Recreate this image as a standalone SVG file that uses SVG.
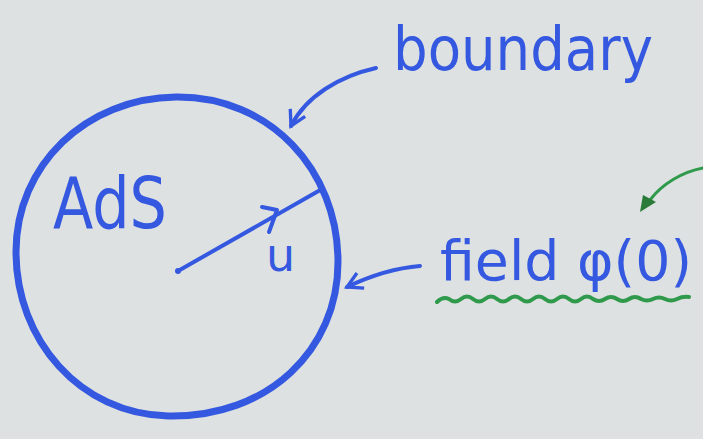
<svg xmlns="http://www.w3.org/2000/svg" width="703" height="439" viewBox="0 0 703 439">
<defs>
<style>
.ink{fill:none;stroke:#3558e0;stroke-linecap:round;stroke-linejoin:round}
.gink{fill:none;stroke:#2f9a4c;stroke-linecap:round;stroke-linejoin:round}
.lbl{fill:#3558e0;font-family:"DejaVu Sans","Liberation Sans",sans-serif}
</style>
<marker id="openBlue" viewBox="0 0 12 12" refX="10" refY="6" markerWidth="5" markerHeight="5" orient="auto" markerUnits="strokeWidth">
<path d="M1,1 L10,6 L1,11" fill="none" stroke="#3558e0" stroke-width="2"/>
</marker>
</defs>
<rect width="703" height="439" fill="#dde1e1"/>
<g id="ads-space">
<path class="ink" stroke-width="7" d="M176,97 C270,96 338,170 338,262 C338,350 268,418 168,416 C80,414 16,340 16,252 C16,165 86,98 176,97 Z"/>
<text class="lbl" x="53" y="228" font-size="72" textLength="114" lengthAdjust="spacingAndGlyphs">AdS</text>
</g>
<g id="radius">
<circle cx="178" cy="271" r="3" fill="#3558e0"/>
<text class="lbl" x="266" y="271" font-size="46">u</text>
</g>
<g id="boundary-label">
<text class="lbl" x="393" y="70" font-size="60" textLength="260" lengthAdjust="spacingAndGlyphs">boundary</text>
</g>
<g id="field-label">
<text class="lbl" x="440" y="280" font-size="56" textLength="252" lengthAdjust="spacingAndGlyphs">field φ(0)</text>
<path class="gink" stroke-width="4" d="M437,302 q6,-6 12,-3 q6,5 12,0 q6,-5 12,0 q6,5 12,0 q6,-5 12,0 q6,5 12,0 q6,-5 12,0 q6,5 12,0 q6,-5 12,0 q6,5 12,0 q6,-5 12,0 q6,5 12,0 q6,-5 12,0 q6,4 12,0 q6,-4 12,0 q6,4 12,0 q6,-4 12,0 q6,3 12,0 q6,-3 12,0 q6,3 12,0 q6,-3 12,-2"/>
</g>
<g id="connectors">
<path class="ink" stroke-width="4" d="M376,68 C340,76 306,96 291,126" marker-end="url(#openBlue)"/>
<path class="ink" stroke-width="4" d="M178,271 L322,189"/>
<path class="ink" stroke-width="4" d="M262,207 L277,210 L269,232"/>
<path class="ink" stroke-width="4" d="M420,266 C395,268 370,276 347,287" marker-end="url(#openBlue)"/>
<path class="gink" stroke-width="3" d="M703,168 C682,172 662,184 650,200"/>
<polygon points="640,212 643,195 656,202" fill="#2a7a3a"/>
</g>
</svg>
